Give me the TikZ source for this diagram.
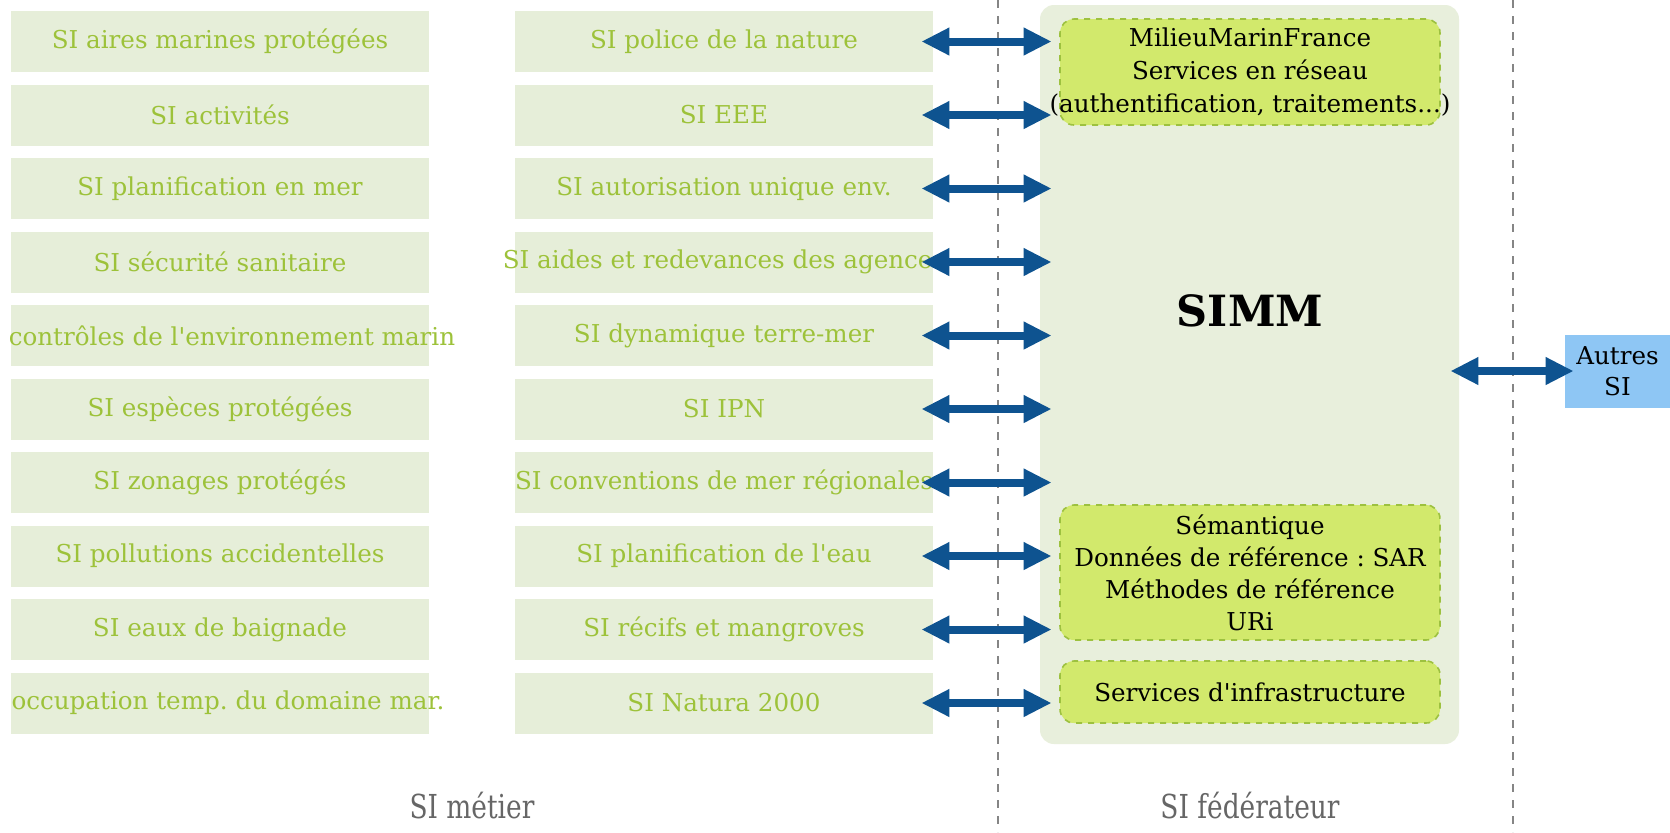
\documentclass[tikz,border=0pt]{standalone}
\usepackage{fontspec}
\setmainfont{DejaVu Serif}[Ligatures=TeXReset]
\newfontfamily\condserif{DejaVu Serif}[FakeStretch=0.8,Ligatures=TeXReset]
\usetikzlibrary{arrows.meta,calc}
\frenchspacing
\definecolor{boxfill}{HTML}{E6EED9}
\definecolor{simmbg}{HTML}{E8EFDC}
\definecolor{sigreen}{HTML}{9DC23A}
\definecolor{limefill}{HTML}{D2E96C}
\definecolor{limeborder}{HTML}{9DC13F}
\definecolor{arrowblue}{HTML}{0E5390}
\definecolor{autresfill}{HTML}{8EC6F4}
\definecolor{labelgray}{HTML}{666666}
\newcommand{\ctr}[2][0pt]{\makebox[0pt]{\hspace*{#1}#2}}
\tikzset{
  sibox/.style={fill=boxfill, minimum width=209pt, minimum height=30.5pt, inner sep=0pt,
    text=sigreen, font=\fontsize{12.3}{14}\selectfont},
  limebox/.style={fill=limefill, draw=limeborder, dashed, line width=0.8pt, rounded corners=7pt,
    minimum width=190pt, inner sep=0pt, align=center, text=black},
  biarrow/.style={arrowblue, line width=4pt, {Triangle[length=14pt,width=13pt]}-{Triangle[length=14pt,width=13pt]}},
  divider/.style={labelgray!80, dashed, dash pattern=on 4pt off 4pt, line width=0.7pt},
  bottomlabel/.style={text=labelgray, font=\condserif\fontsize{16.5}{18}\selectfont}
}
\begin{document}
\begin{tikzpicture}[x=0.5pt,y=-0.5pt]
\useasboundingbox (0,0) rectangle (1670,832);
\fill[white] (0,0) rectangle (1670,832);

% dividers
\draw[divider] (998,0) -- (998,832);
\draw[divider] (1513,0) -- (1513,832);

% SIMM background
\node[fill=simmbg, rounded corners=7pt, minimum width=209.5pt, minimum height=369.5pt, inner sep=0pt] (simm) at (1249.5,374.5) {};
\node[font=\fontsize{21.5}{24}\selectfont\bfseries] (simmlabel) at (1250,311) {SIMM};

% left column
\foreach \i/\t in {1/SI aires marines protégées, 2/SI activités, 3/SI planification en mer,
  4/SI sécurité sanitaire, 6/SI espèces protégées,
  7/SI zonages protégés, 8/SI pollutions accidentelles, 9/SI eaux de baignade}{
  \node[sibox] (L\i) at (220,{41.5+73.5*(\i-1)}) {\ctr{\t}};
}
\node[sibox] (L5) at (220,{41.5+73.5*4}) {\ctr[12pt]{contrôles de l'environnement marin}};
\node[sibox] (L10) at (220,{41.5+73.5*9}) {\ctr[8pt]{occupation temp. du domaine mar.}};
% middle column
\foreach \i/\t in {1/SI police de la nature, 2/SI EEE, 3/SI autorisation unique env.,
  4/SI aides et redevances des agences, 5/SI dynamique terre-mer, 6/SI IPN,
  7/SI conventions de mer régionales, 8/SI planification de l'eau, 9/SI récifs et mangroves,
  10/SI Natura 2000}{
  \node[sibox] (M\i) at (724,{41.5+73.5*(\i-1)}) {\ctr{\t}};
}

% lime boxes
\node[limebox, minimum height=53pt, font=\fontsize{12.3}{16.5}\selectfont] (mmf) at (1250,72)
  {MilieuMarinFrance\\Services en réseau\\\ctr{(authentification, traitements...)}};
\node[limebox, minimum height=67.5pt, font=\fontsize{12.3}{16}\selectfont] (sem) at (1250,572.5)
  {Sémantique\\Données de référence : SAR\\Méthodes de référence\\URi};
\node[limebox, minimum height=31pt, font=\fontsize{12.3}{16}\selectfont] (infra) at (1250,692)
  {Services d'infrastructure};

% autres SI
\node[fill=autresfill, minimum width=52.5pt, minimum height=36.5pt, inner sep=0pt, align=center,
  font=\fontsize{12.3}{15.5}\selectfont] (autres) at (1617.5,371) {Autres\\SI};

% arrows
\foreach \i in {1,...,10}{
  \draw[biarrow] ([xshift=-6pt]M\i.east) -- ([xshift=6pt]simm.west |- M\i.east);
}
\draw[biarrow] ([xshift=-4.5pt]simm.east |- autres.west) -- ([xshift=4.5pt]autres.west);

% bottom labels
\node[bottomlabel] (metier) at (472,806) {SI métier};
\node[bottomlabel] (federateur) at (1250,806) {SI fédérateur};
\end{tikzpicture}
\end{document}
